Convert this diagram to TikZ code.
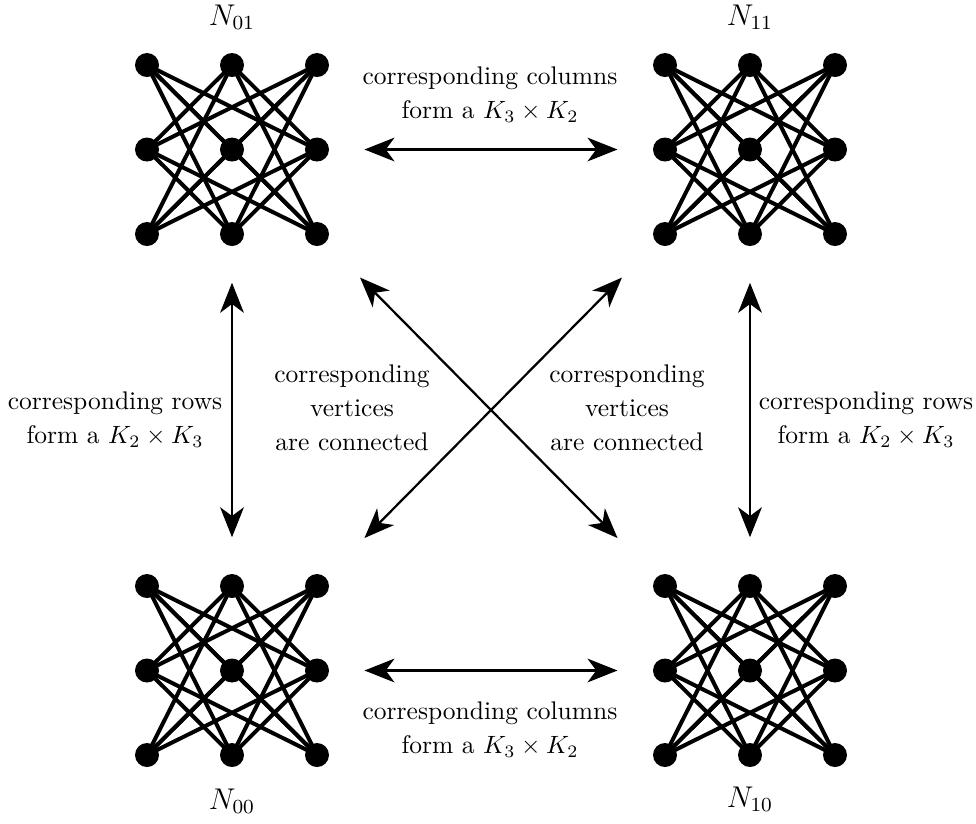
\documentclass[tikz,border=0pt]{standalone}
\usepackage{amsmath,amssymb}
\usepackage{tikz}
\usetikzlibrary{arrows.meta}

\begin{document}
\begin{tikzpicture}[x=0.4pt,y=-0.4pt,
    vtx/.style={circle,fill=black,inner sep=0pt,minimum size=9.6pt},
    edge/.style={line width=1.6pt},
    link/.style={line width=0.9pt,{Stealth[length=12pt,width=9.5pt,inset=3.5pt]}-{Stealth[length=12pt,width=9.5pt,inset=3.5pt]}},
    lbl/.style={align=center,font=\fontsize{10.2}{13.6}\selectfont},
    graphtag/.style={font=\fontsize{11.5}{13.6}\selectfont}]
    \useasboundingbox (0,0) rectangle (976,823);

    % Four copies of K_3 x K_3
    \foreach \g/\ox/\oy in {01/147/65, 11/665/65, 00/147/586, 10/665/586}{
        \foreach \i in {0,1,2}
            \foreach \j in {0,1,2}
                \node[vtx] (v\g-\i\j) at (\ox+85*\i,\oy+84.5*\j) {};
        \foreach \i in {0,1,2}
            \foreach \k in {0,1,2}
                \foreach \j in {0,1,2}
                    \foreach \l in {0,1,2}{
                        \ifnum\i<\k \ifnum\j=\l\else
                            \draw[edge] (v\g-\i\j.center) -- (v\g-\k\l.center);
                        \fi\fi
                    }
    }

    % Names
    \node[graphtag] (n01) at (232,17) {$N_{01}$};
    \node[graphtag] (n11) at (750,17) {$N_{11}$};
    \node[graphtag] (n00) at (232,801) {$N_{00}$};
    \node[graphtag] (n10) at (750,799) {$N_{10}$};

    % Connections between the copies
    \draw[link,shorten <=19pt,shorten >=19pt] (v01-21.center) -- (v11-01.center);
    \draw[link,shorten <=19pt,shorten >=19pt] (v00-21.center) -- (v10-01.center);
    \draw[link,shorten <=19.5pt,shorten >=19.5pt] (v01-12.center) -- (v00-10.center);
    \draw[link,shorten <=19.5pt,shorten >=19.5pt] (v11-12.center) -- (v10-10.center);
    \draw[link,shorten <=24.5pt,shorten >=27pt] (v01-22.center) -- (v10-00.center);
    \draw[link,shorten <=24.5pt,shorten >=27pt] (v11-02.center) -- (v00-20.center);

    % Labels
    \node[lbl] (colstop) at (490,95) {corresponding columns\\form a $K_3\times K_2$};
    \node[lbl] (colsbot) at (490,730) {corresponding columns\\form a $K_3\times K_2$};
    \node[lbl] (rowsleft) at (115,420) {corresponding rows\\form a $K_2\times K_3$};
    \node[lbl] (rowsright) at (866,420) {corresponding rows\\form a $K_2\times K_3$};
    \node[lbl] (vertleft) at (352,408) {corresponding\\vertices\\are connected};
    \node[lbl] (vertright) at (627,408) {corresponding\\vertices\\are connected};
\end{tikzpicture}
\end{document}
